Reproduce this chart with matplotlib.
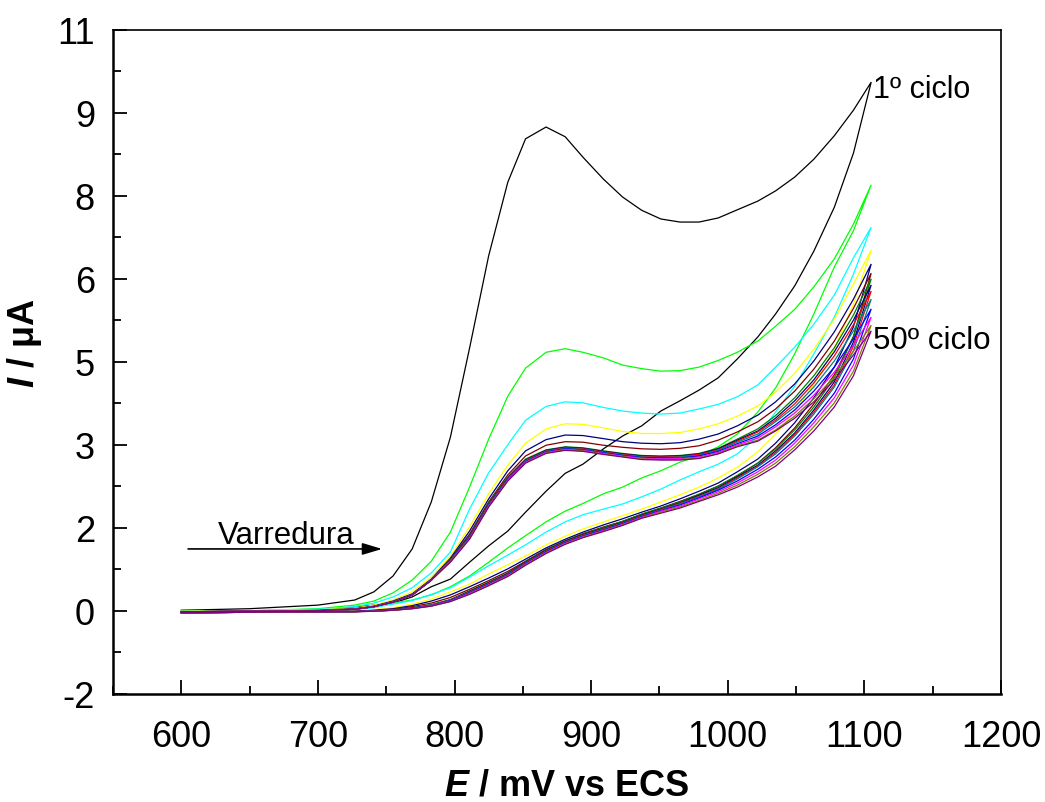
import matplotlib
matplotlib.use('Agg')
import matplotlib.pyplot as plt
from matplotlib.ticker import AutoMinorLocator, FixedLocator, FixedFormatter

plt.rcParams['font.family'] = ['Liberation Sans', 'DejaVu Sans']
plt.rcParams['mathtext.fontset'] = 'custom'
plt.rcParams['mathtext.rm'] = 'Liberation Sans'
plt.rcParams['mathtext.bf'] = 'Liberation Sans:bold'
plt.rcParams['mathtext.it'] = 'Liberation Sans:italic'
plt.rcParams['mathtext.bfit'] = 'Liberation Sans:italic:bold'

# ---------------- data ----------------
E = [600, 650, 700, 727, 741, 755, 769, 783, 797, 811, 825, 839, 852, 867, 881, 894,
     909, 923, 937, 951, 965, 979, 993, 1007, 1022, 1035, 1049, 1063, 1078, 1092, 1105]

c1_fwd = [-0.36, -0.33, -0.26, -0.16, 0.00, 0.31, 0.84, 1.76, 3.03, 4.77, 6.58, 8.02, 8.87, 9.10, 8.91, 8.51,
          8.08, 7.73, 7.47, 7.30, 7.24, 7.24, 7.32, 7.48, 7.65, 7.85, 8.12, 8.47, 8.93, 9.43, 9.98]
c1_rev = [-0.40, -0.39, -0.36, -0.30, -0.26, -0.22, -0.10, 0.10, 0.25, 0.58, 0.90, 1.19, 1.56, 1.97, 2.32, 2.50,
          2.80, 3.05, 3.25, 3.54, 3.74, 3.95, 4.19, 4.56, 4.99, 5.44, 5.99, 6.67, 7.53, 8.59, 9.98]

c2_fwd = [-0.38, -0.37, -0.33, -0.26, -0.18, -0.02, 0.23, 0.60, 1.17, 2.05, 2.99, 3.83, 4.38, 4.69, 4.76, 4.69,
          4.58, 4.44, 4.37, 4.32, 4.33, 4.40, 4.53, 4.69, 4.91, 5.20, 5.53, 5.97, 6.52, 7.20, 7.97]
c2_rev = [-0.39, -0.38, -0.36, -0.32, -0.28, -0.22, -0.16, -0.06, 0.10, 0.31, 0.58, 0.86, 1.10, 1.37, 1.58, 1.73,
          1.92, 2.05, 2.23, 2.37, 2.54, 2.66, 2.84, 3.09, 3.52, 3.99, 4.66, 5.44, 6.36, 7.07, 7.97]

c3_fwd = [-0.38, -0.37, -0.34, -0.29, -0.22, -0.10, 0.08, 0.37, 0.78, 1.62, 2.33, 2.88, 3.36, 3.63, 3.72, 3.70,
          3.61, 3.54, 3.50, 3.48, 3.50, 3.58, 3.67, 3.82, 4.05, 4.40, 4.79, 5.24, 5.81, 6.54, 7.14]
c3_rev = [-0.40, -0.39, -0.38, -0.35, -0.31, -0.24, -0.17, -0.05, 0.08, 0.29, 0.51, 0.72, 0.92, 1.17, 1.37, 1.51,
          1.62, 1.72, 1.86, 2.01, 2.19, 2.35, 2.50, 2.70, 3.05, 3.52, 4.03, 4.66, 5.38, 6.22, 7.14]

c4_fwd = [-0.38, -0.37, -0.35, -0.32, -0.26, -0.16, 0.00, 0.29, 0.70, 1.27, 1.92, 2.48, 2.91, 3.19, 3.29, 3.28,
          3.21, 3.14, 3.10, 3.10, 3.12, 3.19, 3.29, 3.44, 3.64, 3.91, 4.28, 4.75, 5.34, 6.03, 6.69]
c4_rev = [-0.41, -0.40, -0.39, -0.37, -0.35, -0.31, -0.24, -0.14, 0.00, 0.15, 0.35, 0.53, 0.70, 0.92, 1.09, 1.23,
          1.37, 1.49, 1.62, 1.76, 1.90, 2.05, 2.23, 2.44, 2.74, 3.09, 3.52, 4.07, 4.75, 5.64, 6.69]

c5_fwd = [-0.39, -0.38, -0.36, -0.33, -0.28, -0.18, -0.04, 0.25, 0.66, 1.19, 1.82, 2.37, 2.76, 2.98, 3.07, 3.06,
          3.00, 2.94, 2.91, 2.90, 2.92, 2.99, 3.09, 3.25, 3.46, 3.72, 4.07, 4.52, 5.09, 5.73, 6.42]
c5_rev = [-0.41, -0.40, -0.39, -0.38, -0.36, -0.33, -0.27, -0.18, -0.06, 0.10, 0.27, 0.45, 0.64, 0.86, 1.03, 1.17,
          1.31, 1.43, 1.56, 1.68, 1.82, 1.97, 2.13, 2.35, 2.60, 2.91, 3.31, 3.80, 4.40, 5.19, 6.42]

c6_fwd = [-0.39, -0.39, -0.37, -0.34, -0.29, -0.20, -0.06, 0.23, 0.64, 1.13, 1.76, 2.29, 2.66, 2.87, 2.94, 2.93,
          2.87, 2.83, 2.80, 2.79, 2.81, 2.86, 2.97, 3.13, 3.33, 3.58, 3.93, 4.36, 4.91, 5.55, 6.24]
c6_rev = [-0.41, -0.40, -0.39, -0.39, -0.37, -0.34, -0.29, -0.22, -0.11, 0.05, 0.22, 0.40, 0.60, 0.83, 1.00, 1.14,
          1.27, 1.38, 1.52, 1.64, 1.77, 1.91, 2.07, 2.27, 2.52, 2.82, 3.21, 3.68, 4.25, 5.00, 6.24]

c7_fwd = [-0.39, -0.38, -0.37, -0.34, -0.29, -0.20, -0.06, 0.23, 0.64, 1.10, 1.74, 2.25, 2.60, 2.78, 2.84, 2.82,
          2.76, 2.71, 2.67, 2.66, 2.67, 2.71, 2.81, 2.99, 3.19, 3.45, 3.80, 4.23, 4.78, 5.42, 6.13]
c7_rev = [-0.41, -0.40, -0.39, -0.385, -0.375, -0.35, -0.31, -0.25, -0.15, 0.02, 0.19, 0.37, 0.59, 0.82, 1.00, 1.13,
          1.26, 1.38, 1.52, 1.64, 1.76, 1.91, 2.07, 2.28, 2.52, 2.80, 3.17, 3.62, 4.19, 4.99, 6.13]

c8_fwd = [-0.39, -0.38, -0.37, -0.34, -0.29, -0.20, -0.06, 0.23, 0.63, 1.09, 1.72, 2.23, 2.58, 2.77, 2.83, 2.81,
          2.75, 2.70, 2.66, 2.65, 2.66, 2.70, 2.80, 2.97, 3.15, 3.40, 3.74, 4.15, 4.70, 5.32, 6.01]
c8_rev = [-0.41, -0.40, -0.39, -0.385, -0.375, -0.355, -0.32, -0.26, -0.16, 0.01, 0.18, 0.36, 0.58, 0.81, 0.99, 1.12,
          1.24, 1.36, 1.50, 1.62, 1.74, 1.89, 2.04, 2.25, 2.48, 2.76, 3.11, 3.56, 4.11, 4.89, 6.01]

c9_fwd = [-0.39, -0.38, -0.37, -0.34, -0.29, -0.20, -0.06, 0.23, 0.62, 1.08, 1.71, 2.22, 2.57, 2.76, 2.82, 2.80,
          2.74, 2.69, 2.65, 2.64, 2.65, 2.69, 2.78, 2.95, 3.13, 3.36, 3.68, 4.09, 4.62, 5.23, 5.89]
c9_rev = [-0.41, -0.40, -0.39, -0.385, -0.375, -0.355, -0.32, -0.26, -0.16, 0.00, 0.17, 0.35, 0.57, 0.80, 0.98, 1.11,
          1.23, 1.35, 1.49, 1.61, 1.73, 1.87, 2.02, 2.23, 2.46, 2.73, 3.08, 3.52, 4.05, 4.81, 5.89]

c10_fwd = [-0.39, -0.38, -0.37, -0.34, -0.29, -0.20, -0.06, 0.23, 0.62, 1.07, 1.70, 2.21, 2.56, 2.75, 2.81, 2.79,
           2.73, 2.68, 2.64, 2.63, 2.64, 2.67, 2.77, 2.93, 3.09, 3.33, 3.62, 4.01, 4.52, 5.11, 5.73]
c10_rev = [-0.41, -0.40, -0.39, -0.385, -0.375, -0.355, -0.32, -0.26, -0.16, -0.01, 0.16, 0.34, 0.56, 0.79, 0.97, 1.10,
           1.22, 1.34, 1.48, 1.60, 1.72, 1.86, 2.01, 2.21, 2.45, 2.70, 3.05, 3.48, 4.01, 4.72, 5.73]

c11_fwd = [-0.39, -0.38, -0.37, -0.34, -0.29, -0.20, -0.06, 0.23, 0.61, 1.06, 1.69, 2.20, 2.55, 2.74, 2.80, 2.78,
           2.72, 2.67, 2.63, 2.62, 2.62, 2.66, 2.75, 2.90, 3.05, 3.27, 3.56, 3.93, 4.40, 4.95, 5.54]
c11_rev = [-0.41, -0.40, -0.39, -0.385, -0.375, -0.36, -0.32, -0.27, -0.17, -0.02, 0.15, 0.33, 0.55, 0.78, 0.96, 1.09,
           1.21, 1.33, 1.47, 1.59, 1.70, 1.84, 1.99, 2.17, 2.40, 2.64, 2.97, 3.38, 3.89, 4.56, 5.54]

c12_fwd = [-0.39, -0.38, -0.37, -0.34, -0.29, -0.20, -0.06, 0.23, 0.60, 1.05, 1.68, 2.19, 2.54, 2.73, 2.79, 2.77,
           2.71, 2.66, 2.62, 2.60, 2.61, 2.64, 2.73, 2.88, 3.01, 3.23, 3.50, 3.85, 4.30, 4.83, 5.38]
c12_rev = [-0.41, -0.40, -0.39, -0.385, -0.38, -0.36, -0.33, -0.27, -0.18, -0.03, 0.14, 0.32, 0.54, 0.77, 0.95, 1.08,
           1.20, 1.32, 1.46, 1.58, 1.68, 1.82, 1.96, 2.13, 2.35, 2.58, 2.91, 3.31, 3.80, 4.44, 5.38]

c13_fwd = [-0.39, -0.38, -0.37, -0.34, -0.29, -0.20, -0.06, 0.23, 0.59, 1.04, 1.67, 2.18, 2.53, 2.72, 2.78, 2.76,
           2.70, 2.65, 2.60, 2.59, 2.59, 2.62, 2.71, 2.86, 2.97, 3.17, 3.44, 3.78, 4.21, 4.71, 5.22]
c13_rev = [-0.41, -0.40, -0.39, -0.39, -0.38, -0.36, -0.33, -0.28, -0.19, -0.04, 0.13, 0.31, 0.53, 0.76, 0.94, 1.07,
           1.19, 1.31, 1.45, 1.56, 1.66, 1.79, 1.93, 2.09, 2.30, 2.52, 2.84, 3.23, 3.70, 4.32, 5.22]

c14_fwd = [-0.39, -0.38, -0.37, -0.34, -0.29, -0.20, -0.06, 0.23, 0.58, 1.03, 1.66, 2.17, 2.52, 2.71, 2.77, 2.75,
           2.69, 2.64, 2.59, 2.58, 2.58, 2.61, 2.70, 2.84, 2.95, 3.15, 3.40, 3.72, 4.15, 4.64, 5.11]
c14_rev = [-0.41, -0.40, -0.39, -0.39, -0.38, -0.36, -0.33, -0.28, -0.19, -0.05, 0.12, 0.30, 0.52, 0.75, 0.93, 1.06,
           1.18, 1.30, 1.44, 1.54, 1.64, 1.77, 1.90, 2.05, 2.25, 2.46, 2.78, 3.15, 3.62, 4.23, 5.11]

forward_scans = [c1_fwd, c2_fwd, c3_fwd, c4_fwd, c5_fwd, c6_fwd, c7_fwd,
                 c8_fwd, c9_fwd, c10_fwd, c11_fwd, c12_fwd, c13_fwd, c14_fwd]
reverse_scans = [c1_rev, c2_rev, c3_rev, c4_rev, c5_rev, c6_rev, c7_rev,
                 c8_rev, c9_rev, c10_rev, c11_rev, c12_rev, c13_rev, c14_rev]
cycle_colors = ['#000000', '#00FF00', '#00FFFF', '#FFFF00', '#000080', '#800000', '#008000',
                '#000080', '#FF0000', '#008080', '#0000FF', '#FF00FF', '#808000', '#800080']

y_tick_values = [-2.0, -0.375, 1.25, 2.875, 4.5, 6.125, 7.75, 9.375, 11.0]
y_tick_labels = ['-2', '0', '2', '3', '5', '6', '8', '9', '11']
x_tick_values = [600, 700, 800, 900, 1000, 1100, 1200]

# ---------------- plot ----------------
fig = plt.figure(figsize=(10.45, 8.03), dpi=100)
ax = fig.add_axes([0.1081, 0.1345, 0.8498, 0.8269])

for fwd, rev, col in zip(forward_scans, reverse_scans, cycle_colors):
    xs = E + E[::-1]
    ys = fwd + rev[::-1]
    ax.plot(xs, ys, color=col, lw=0.9, solid_joinstyle='miter')

ax.set_xlim(550, 1200)
ax.set_ylim(-2, 11)

ax.xaxis.set_major_locator(FixedLocator(x_tick_values))
ax.xaxis.set_minor_locator(AutoMinorLocator(2))
ax.yaxis.set_major_locator(FixedLocator(y_tick_values))
ax.yaxis.set_major_formatter(FixedFormatter(y_tick_labels))
ax.yaxis.set_minor_locator(AutoMinorLocator(2))

ax.tick_params(which='both', direction='in', top=False, right=False, width=1.3, color='k')
ax.tick_params(which='major', length=10)
ax.tick_params(which='minor', length=5.5)
ax.tick_params(axis='x', which='major', labelsize=26, pad=18)
ax.tick_params(axis='y', which='major', labelsize=26, pad=13)

for side in ['left', 'bottom']:
    ax.spines[side].set_linewidth(1.8)
for side in ['top', 'right']:
    ax.spines[side].set_linewidth(1.2)

ax.set_xlabel(r'$\mathbfit{E}$ / mV vs ECS', fontsize=26, fontweight='bold')
ax.set_ylabel(r'$\mathbfit{I}$ / μA', fontsize=26, fontweight='bold')
ax.xaxis.set_label_coords(0.511, -0.110)
ax.yaxis.set_label_coords(-0.078, 0.53)

ax.text(1106, 9.69, '1º ciclo', fontsize=22, ha='left', va='baseline')
ax.text(1106, 4.77, '50º ciclo', fontsize=22.5, ha='left', va='baseline')
ax.text(677, 0.96, 'Varredura', fontsize=22.5, ha='center', va='baseline')
ax.annotate('', xy=(747, 0.84), xytext=(605, 0.84),
            arrowprops=dict(arrowstyle='-|>,head_length=0.6,head_width=0.18',
                            color='k', lw=1.2, mutation_scale=20, shrinkA=0, shrinkB=0))

fig.savefig('out.png', dpi=100)
